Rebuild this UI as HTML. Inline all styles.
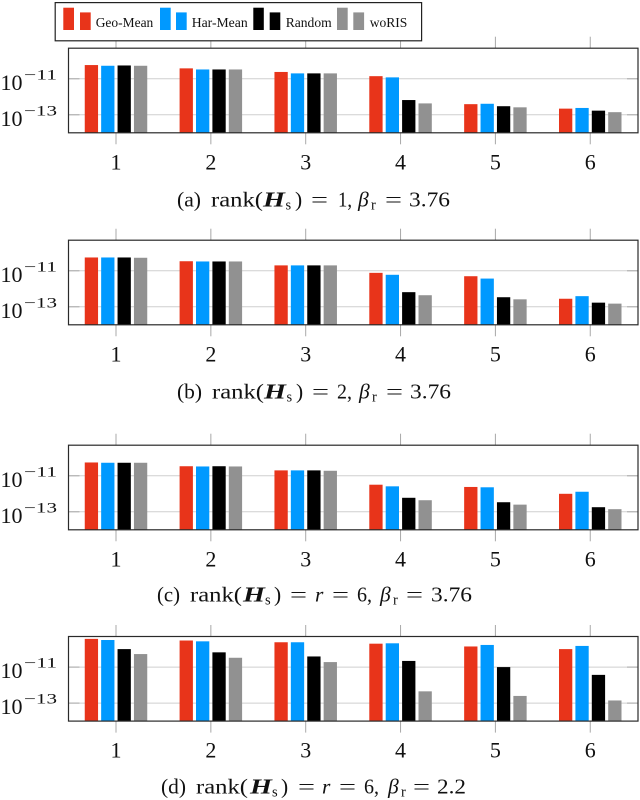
<!DOCTYPE html>
<html lang="en">
<head>
<meta charset="utf-8">
<title>Bar charts by rank and beta</title>
<style>
html,body{margin:0;padding:0;background:#fff;width:640px;height:800px;overflow:hidden}
svg{display:block;filter:blur(.3px)}
text{font-family:"Liberation Serif",serif;fill:#111}
.cap{font-size:21.5px}
.m{font-style:italic}
.b{font-style:italic;font-weight:bold}
.sub{font-size:14.5px}
.leg{font-size:14px}
</style>
</head>
<body>
<svg id="chart" width="640" height="800" viewBox="0 0 640 800" xmlns="http://www.w3.org/2000/svg">
  <g id="panels"></g>

  <g>
    <rect x="55.2" y="2.6" width="366.4" height="38.2" fill="#fff" stroke="#222" stroke-width="1.2"/>
    <g>
      <rect x="63.3" y="7.7" width="10.7" height="22.3" fill="#e8341a"/>
      <rect x="80" y="12.4" width="10.7" height="17.6" fill="#e8341a"/>
      <text class="leg" x="95.7" y="26.8" textLength="57.6" lengthAdjust="spacingAndGlyphs">Geo-Mean</text>
    </g>
    <g>
      <rect x="160" y="7.7" width="10.7" height="22.3" fill="#0099ff"/>
      <rect x="176" y="12.4" width="10.7" height="17.6" fill="#0099ff"/>
      <text class="leg" x="191.7" y="26.8" textLength="56" lengthAdjust="spacingAndGlyphs">Har-Mean</text>
    </g>
    <g>
      <rect x="253.3" y="7.7" width="10.5" height="22.3" fill="#000"/>
      <rect x="269.7" y="12.4" width="10.6" height="17.6" fill="#000"/>
      <text class="leg" x="285.7" y="26.8" textLength="46" lengthAdjust="spacingAndGlyphs">Random</text>
    </g>
    <g>
      <rect x="337" y="7.7" width="10.7" height="22.3" fill="#919191"/>
      <rect x="353.3" y="12.4" width="10.8" height="17.6" fill="#919191"/>
      <text class="leg" x="369.7" y="26.8" textLength="37.6" lengthAdjust="spacingAndGlyphs">woRIS</text>
    </g>
  </g>

  <g class="cap">
    <text x="177" y="206.5" textLength="24" lengthAdjust="spacingAndGlyphs">(a)</text>
    <text x="211" y="206.5" textLength="52" lengthAdjust="spacingAndGlyphs">rank(</text>
    <text class="b" x="263" y="206.5" textLength="22" lengthAdjust="spacingAndGlyphs">H</text>
    <text class="sub" x="285.5" y="209.5">s</text>
    <text x="295" y="206.5">)</text>
    <text x="311" y="206.5" textLength="17" lengthAdjust="spacingAndGlyphs">=</text>
    <text x="338" y="206.5" textLength="14" lengthAdjust="spacingAndGlyphs">1,</text>
    <text class="m" x="358" y="206.5">β</text>
    <text class="sub" x="371" y="209.5">r</text>
    <text x="385" y="206.5" textLength="17" lengthAdjust="spacingAndGlyphs">=</text>
    <text x="409" y="206.5" textLength="41" lengthAdjust="spacingAndGlyphs">3.76</text>
  </g>
  <g class="cap">
    <text x="177" y="398.5" textLength="25" lengthAdjust="spacingAndGlyphs">(b)</text>
    <text x="212" y="398.5" textLength="52" lengthAdjust="spacingAndGlyphs">rank(</text>
    <text class="b" x="264" y="398.5" textLength="22" lengthAdjust="spacingAndGlyphs">H</text>
    <text class="sub" x="286.5" y="401.5">s</text>
    <text x="296" y="398.5">)</text>
    <text x="312" y="398.5" textLength="17" lengthAdjust="spacingAndGlyphs">=</text>
    <text x="337" y="398.5" textLength="15" lengthAdjust="spacingAndGlyphs">2,</text>
    <text class="m" x="359" y="398.5">β</text>
    <text class="sub" x="372" y="401.5">r</text>
    <text x="386" y="398.5" textLength="17" lengthAdjust="spacingAndGlyphs">=</text>
    <text x="410" y="398.5" textLength="41" lengthAdjust="spacingAndGlyphs">3.76</text>
  </g>
  <g class="cap">
    <text x="157" y="601.5" textLength="23" lengthAdjust="spacingAndGlyphs">(c)</text>
    <text x="190" y="601.5" textLength="52" lengthAdjust="spacingAndGlyphs">rank(</text>
    <text class="b" x="243" y="601.5" textLength="22" lengthAdjust="spacingAndGlyphs">H</text>
    <text class="sub" x="265" y="604.5">s</text>
    <text x="274" y="601.5">)</text>
    <text x="290" y="601.5" textLength="17" lengthAdjust="spacingAndGlyphs">=</text>
    <text class="m" x="315" y="601.5">r</text>
    <text x="332" y="601.5" textLength="17" lengthAdjust="spacingAndGlyphs">=</text>
    <text x="357" y="601.5" textLength="15" lengthAdjust="spacingAndGlyphs">6,</text>
    <text class="m" x="380" y="601.5">β</text>
    <text class="sub" x="393" y="604.5">r</text>
    <text x="406" y="601.5" textLength="17" lengthAdjust="spacingAndGlyphs">=</text>
    <text x="431" y="601.5" textLength="41" lengthAdjust="spacingAndGlyphs">3.76</text>
  </g>
  <g class="cap">
    <text x="161" y="793.5" textLength="25" lengthAdjust="spacingAndGlyphs">(d)</text>
    <text x="196" y="793.5" textLength="52" lengthAdjust="spacingAndGlyphs">rank(</text>
    <text class="b" x="250" y="793.5" textLength="22" lengthAdjust="spacingAndGlyphs">H</text>
    <text class="sub" x="272" y="796.5">s</text>
    <text x="281" y="793.5">)</text>
    <text x="298" y="793.5" textLength="17" lengthAdjust="spacingAndGlyphs">=</text>
    <text class="m" x="322" y="793.5">r</text>
    <text x="339" y="793.5" textLength="17" lengthAdjust="spacingAndGlyphs">=</text>
    <text x="364" y="793.5" textLength="15" lengthAdjust="spacingAndGlyphs">6,</text>
    <text class="m" x="388" y="793.5">β</text>
    <text class="sub" x="401" y="796.5">r</text>
    <text x="413" y="793.5" textLength="17" lengthAdjust="spacingAndGlyphs">=</text>
    <text x="437" y="793.5" textLength="29" lengthAdjust="spacingAndGlyphs">2.2</text>
  </g>
</svg>
<script>
const categories = [1, 2, 3, 4, 5, 6];
const yTickExponents = [-11, -13];

const geoMeanA = [5.8e-11, 3.8e-11, 2.4e-11, 1.4e-11, 3.9e-13, 2.2e-13];
const harMeanA = [5.3e-11, 3.3e-11, 2.0e-11, 1.2e-11, 4.1e-13, 2.4e-13];
const randomA  = [5.5e-11, 3.3e-11, 2.0e-11, 6.6e-13, 3.0e-13, 1.7e-13];
const woRISA   = [5.3e-11, 3.3e-11, 2.0e-11, 4.3e-13, 2.6e-13, 1.4e-13];

const geoMeanB = [5.5e-11, 3.4e-11, 2.0e-11, 7.7e-12, 5.0e-12, 2.8e-13];
const harMeanB = [5.5e-11, 3.3e-11, 2.0e-11, 6.0e-12, 3.7e-12, 3.9e-13];
const randomB  = [5.5e-11, 3.3e-11, 2.0e-11, 6.5e-13, 3.4e-13, 1.7e-13];
const woRISB   = [5.3e-11, 3.3e-11, 2.0e-11, 4.4e-13, 2.6e-13, 1.5e-13];

const geoMeanC = [5.5e-11, 3.4e-11, 2.0e-11, 3.2e-12, 2.4e-12, 1.0e-12];
const harMeanC = [5.3e-11, 3.3e-11, 2.0e-11, 2.6e-12, 2.3e-12, 1.3e-12];
const randomC  = [5.3e-11, 3.4e-11, 2.0e-11, 6.0e-13, 3.4e-13, 1.8e-13];
const woRISC   = [5.3e-11, 3.3e-11, 1.9e-11, 4.4e-13, 2.5e-13, 1.4e-13];

const geoMeanD = [3.7e-10, 3.0e-10, 2.4e-10, 2.0e-10, 1.4e-10, 1.0e-10];
const harMeanD = [3.2e-10, 2.7e-10, 2.4e-10, 2.1e-10, 1.7e-10, 1.5e-10];
const randomD  = [1.0e-10, 6.6e-11, 3.9e-11, 2.2e-11, 1.0e-11, 3.7e-12];
const woRISD   = [5.3e-11, 3.3e-11, 1.9e-11, 4.5e-13, 2.5e-13, 1.4e-13];

const seriesNames = ['geo-mean', 'har-mean', 'random', 'woris'];
const seriesColors = ['#e8341a', '#0099ff', '#000000', '#919191'];

const panelList = [
  { id: 'a', top: 48.2, series: [geoMeanA, harMeanA, randomA, woRISA] },
  { id: 'b', top: 240.2, series: [geoMeanB, harMeanB, randomB, woRISB] },
  { id: 'c', top: 445.2, series: [geoMeanC, harMeanC, randomC, woRISC] },
  { id: 'd', top: 636.5, series: [geoMeanD, harMeanD, randomD, woRISD] }
];

const NS = 'http://www.w3.org/2000/svg';
const plotLeft = 68.5, plotRight = 638, plotHeight = 84.6;
const pxPerDecade = 18, minExponent = -14;
const barWidth = 13.3, barStep = 16.4;

function xCenter(category) {
  return 116 + (category - 1) * 94.85;
}
function yScale(value, top) {
  return top + plotHeight - (Math.log10(value) - minExponent) * pxPerDecade;
}
function make(tag, attrs, parent) {
  const el = document.createElementNS(NS, tag);
  for (const k in attrs) el.setAttribute(k, attrs[k]);
  parent.appendChild(el);
  return el;
}

const root = document.getElementById('panels');
panelList.forEach(function (panel) {
  const bottom = panel.top + plotHeight;
  const g = make('g', {}, root);
  
  

  categories.forEach(function (cat) {
    const x = xCenter(cat);
    const topTick = make('line', { x1: x, x2: x, y1: panel.top - 11.5, y2: panel.top, stroke: '#a8a8a8', 'stroke-width': 1 }, g);
    
    
    const botTick = make('line', { x1: x, x2: x, y1: bottom, y2: bottom + 11.5, stroke: '#a8a8a8', 'stroke-width': 1 }, g);
    
    
    const label = make('text', { x: x, y: bottom + 36.6, 'text-anchor': 'middle', 'font-size': 22 }, g);
    
    
    label.textContent = String(cat);
  });

  yTickExponents.forEach(function (exp) {
    const y = yScale(Math.pow(10, exp), panel.top);
    const grid = make('line', { x1: plotLeft, x2: plotRight, y1: y, y2: y, stroke: '#cfcfcf', 'stroke-width': 1 }, g);
    
    
    const tl = make('line', { x1: plotLeft, x2: plotLeft + 11, y1: y, y2: y, stroke: '#a8a8a8', 'stroke-width': 1 }, g);
    
    
    const tr = make('line', { x1: plotRight - 11, x2: plotRight, y1: y, y2: y, stroke: '#a8a8a8', 'stroke-width': 1 }, g);
    
    
    const base = make('text', { x: 0.5, y: y + 11, 'font-size': 22 }, g);
    
    
    base.textContent = '10';
    const sup = make('text', { x: 24, y: y + 0.5, 'font-size': 14.5, textLength: 33, lengthAdjust: 'spacingAndGlyphs' }, g);
    
    
    sup.textContent = '\u2212' + Math.abs(exp);
  });

  panel.series.forEach(function (values, s) {
    const offset = (s - 1.5) * barStep;
    values.forEach(function (v, i) {
      const yTop = yScale(v, panel.top);
      const bar = make('rect', {
        x: xCenter(categories[i]) + offset - barWidth / 2,
        y: yTop,
        width: barWidth,
        height: Math.max(0, bottom - yTop),
        fill: seriesColors[s]
      }, g);
      
      
    });
  });

  const frame = make('rect', {
    x: plotLeft, y: panel.top, width: plotRight - plotLeft, height: plotHeight,
    fill: 'none', stroke: '#2a2a2a', 'stroke-width': 1.2
  }, g);
  
  
});
</script>
</body>
</html>
